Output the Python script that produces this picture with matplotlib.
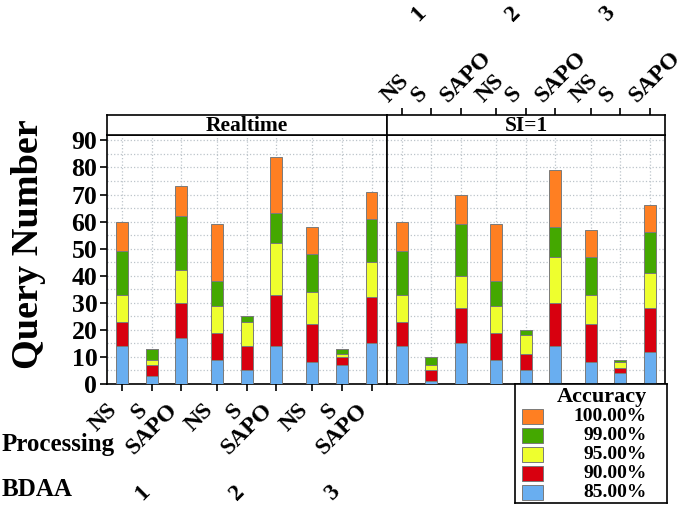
import numpy as np
import matplotlib
matplotlib.use("Agg")
import matplotlib.pyplot as plt
from matplotlib.patches import Rectangle
from matplotlib.ticker import MultipleLocator

plt.rcParams['font.family'] = ['Liberation Serif', 'DejaVu Serif']
plt.rcParams['font.weight'] = 'bold'

processing = ["NS", "S", "SAPO"]
bdaa = ["1", "2", "3"]
panels = ["Realtime", "SI=1"]
accuracy = ["85.00%", "90.00%", "95.00%", "99.00%", "100.00%"]
colors = ["#69AEF0", "#D8000F", "#EEFF2E", "#44A800", "#FF7F22"]

# queries per accuracy band (85, 90, 95, 99, 100), one row per bar
# bar order: BDAA 1 (NS, S, SAPO), BDAA 2 (...), BDAA 3 (...)
realtime = [
    [14, 9, 10, 16, 11],
    [3, 4, 2, 4, 0],
    [17, 13, 12, 20, 11],
    [9, 10, 10, 9, 21],
    [5, 9, 9, 2, 0],
    [14, 19, 19, 11, 21],
    [8, 14, 12, 14, 10],
    [7, 3, 1, 2, 0],
    [15, 17, 13, 16, 10],
]
si1 = [
    [14, 9, 10, 16, 11],
    [1, 4, 2, 3, 0],
    [15, 13, 12, 19, 11],
    [9, 10, 10, 9, 21],
    [5, 6, 7, 2, 0],
    [14, 16, 17, 11, 21],
    [8, 14, 11, 14, 10],
    [4, 2, 2, 1, 0],
    [12, 16, 13, 15, 10],
]

W, H = 685, 507
fig = plt.figure(figsize=(W / 100, H / 100), dpi=100)


def px_axes(x0, y0, x1, y1):
    return fig.add_axes([x0 / W, 1 - y1 / H, (x1 - x0) / W, (y1 - y0) / H])


xpos = [g * 3.2 + i for g in range(len(bdaa)) for i in range(len(processing))]
group_mid = [g * 3.2 + 1 for g in range(len(bdaa))]
xlabels = processing * len(bdaa)
xlim = (-0.5, 8.92)

ax_l = px_axes(107, 135, 387, 384)
ax_r = px_axes(387, 135, 665, 384)
st_l = px_axes(107, 115, 387, 135)
st_r = px_axes(387, 115, 665, 135)

for ax, data in ((ax_l, realtime), (ax_r, si1)):
    data = np.array(data)
    bottom = np.zeros(len(xpos))
    for k in range(len(accuracy)):
        ax.bar(xpos, data[:, k], 0.4, bottom=bottom, color=colors[k],
               edgecolor='#7a7a7a', linewidth=0.7, zorder=3)
        bottom += data[:, k]
    ax.set_xlim(*xlim)
    ax.set_ylim(0, 92)
    ax.set_xticks(xpos)
    ax.yaxis.set_major_locator(MultipleLocator(10))
    ax.yaxis.set_minor_locator(MultipleLocator(5))
    ax.grid(True, which='both', color='#bcc4ca', linestyle=':', linewidth=0.9)
    ax.set_axisbelow(True)
    for s in ax.spines.values():
        s.set_linewidth(1.2)

ax_l.tick_params(axis='y', which='major', direction='out', length=5, width=1.2,
                 labelsize=18.5, pad=2)
ax_l.tick_params(axis='y', which='minor', length=0)
ax_l.tick_params(axis='x', direction='out', length=5, width=1.2, pad=6)
ax_l.set_xticklabels(xlabels, rotation=45, ha='right', fontsize=17)

ax_r.tick_params(which='both', left=False, labelleft=False,
                 bottom=False, labelbottom=False)

for st, name in ((st_l, panels[0]), (st_r, panels[1])):
    st.set_xlim(*xlim)
    st.set_ylim(0, 1)
    st.set_yticks([])
    for s in st.spines.values():
        s.set_linewidth(1.2)
    st.text(0.5, 0.45, name, ha='center', va='center', fontsize=15.5,
            transform=st.transAxes)

st_l.set_xticks([])
st_r.set_xticks(xpos)
st_r.tick_params(axis='x', top=True, bottom=False, labeltop=False,
                 labelbottom=False, direction='out', length=5, width=1.2)

# rotated category labels above the right panel
for x, lab in zip(xpos, xlabels):
    st_r.annotate(lab, xy=(x, 1), xycoords=('data', 'axes fraction'),
                  xytext=(-13, 12), textcoords='offset pixels', rotation=45,
                  rotation_mode='anchor', ha='left', va='baseline', fontsize=17)
for x, lab in zip(group_mid, bdaa):
    st_r.annotate(lab, xy=(x, 1), xycoords=('data', 'axes fraction'),
                  xytext=(-13, 93), textcoords='offset pixels', rotation=45,
                  rotation_mode='anchor', ha='left', va='baseline', fontsize=17)
    ax_l.annotate(lab, xy=(x, 0), xycoords=('data', 'axes fraction'),
                  xytext=(2, -97), textcoords='offset pixels', rotation=45,
                  ha='right', va='top', fontsize=17)

fig.text(29 / W, 1 - 244 / H, "Query Number", rotation=90, ha='center',
         va='center', fontsize=27.5)
fig.text(2 / W, 1 - 444 / H, "Processing", ha='left', va='center', fontsize=18)
fig.text(2 / W, 1 - 489 / H, "BDAA", ha='left', va='center', fontsize=18)

# legend box
lg = px_axes(515, 384, 667, 503)
lg.set_xlim(515, 667)
lg.set_ylim(503, 384)
lg.set_xticks([])
lg.set_yticks([])
for s in lg.spines.values():
    s.set_linewidth(1.2)
lg.text(647, 397, "Accuracy", ha='right', va='center', fontsize=16)
for r, k in enumerate(range(len(accuracy) - 1, -1, -1)):
    yc = 417 + r * 19
    lg.add_patch(Rectangle((522, yc - 7.5), 21, 15, facecolor=colors[k],
                           edgecolor='#7a7a7a', linewidth=0.7))
    lg.text(647, yc, accuracy[k], ha='right', va='center', fontsize=14)

fig.savefig("out.png", dpi=100)
